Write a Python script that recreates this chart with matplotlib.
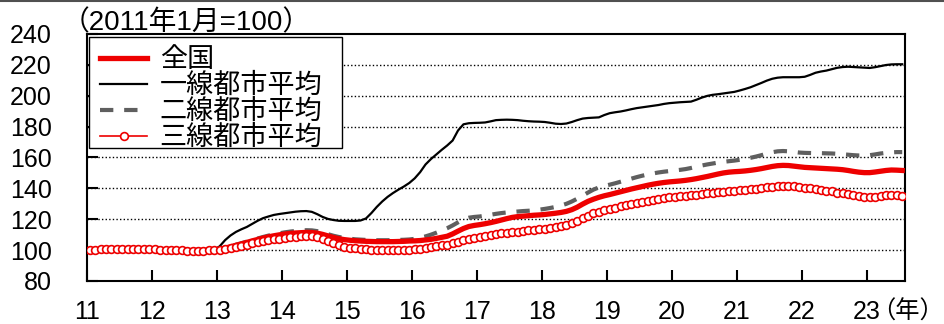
import matplotlib
matplotlib.use("Agg")
import matplotlib.pyplot as plt
from matplotlib.lines import Line2D
from matplotlib.patches import Rectangle
import numpy as np

plt.rcParams['font.family'] = ['Liberation Sans', 'Noto Sans CJK JP', 'DejaVu Sans']

# Monthly house price indices, January 2011 = 100 (Jan 2011 - Jul 2023)
start_year = 2011
tick_years = list(range(2011, 2024))
tick_labels = [f"{y % 100}" for y in tick_years]

series_names = ["全国", "一線都市平均", "二線都市平均", "三線都市平均"]

national = [
    100.0, 100.2, 100.4, 100.6, 100.8, 100.9, 101.0, 101.0, 100.9, 100.8, 100.7, 100.6,
    100.5, 100.4, 100.3, 100.2, 100.0, 99.9, 99.8, 99.7, 99.7, 99.8, 99.9, 100.1,
    100.5, 101.3, 102.2, 103.1, 104.0, 105.0, 106.0, 106.9, 107.8, 108.6, 109.3, 109.9,
    110.4, 110.8, 111.1, 111.3, 111.5, 111.4, 111.0, 110.2, 109.2, 108.2, 107.4, 106.8,
    106.4, 106.1, 105.9, 105.7, 105.6, 105.5, 105.5, 105.5, 105.5, 105.6, 105.7, 105.9,
    106.0, 106.2, 106.6, 107.0, 107.6, 108.3, 109.0, 110.5, 112.3, 114.0, 115.3, 116.0,
    116.5, 117.1, 117.8, 118.6, 119.5, 120.4, 121.2, 121.7, 122.0, 122.3, 122.6, 122.8,
    123.1, 123.5, 123.9, 124.4, 125.1, 126.2, 127.8, 129.8, 131.6, 133.0, 134.2, 135.2,
    136.0, 136.9, 137.8, 138.7, 139.6, 140.4, 141.2, 142.0, 142.7, 143.3, 143.8, 144.2,
    144.5, 144.8, 145.2, 145.7, 146.3, 147.0, 147.7, 148.5, 149.3, 150.0, 150.5, 150.8,
    151.0, 151.3, 151.7, 152.2, 152.8, 153.5, 154.2, 154.7, 154.9, 154.8, 154.4, 154.0,
    153.6, 153.4, 153.2, 153.0, 152.8, 152.6, 152.4, 152.1, 151.6, 151.0, 150.5, 150.2,
    150.2, 150.6, 151.1, 151.6, 151.9, 151.8, 151.6,
]

tier1 = [
    100.0, 100.2, 100.4, 100.6, 100.8, 100.9, 101.0, 101.0, 100.9, 100.8, 100.7, 100.6,
    100.5, 100.4, 100.3, 100.2, 100.0, 99.9, 99.8, 99.7, 99.7, 99.8, 99.9, 100.2,
    102.5, 106.5, 109.5, 111.8, 113.5, 115.0, 117.0, 119.0, 120.7, 121.8, 122.8, 123.4,
    123.9, 124.4, 124.9, 125.2, 125.3, 124.8, 123.3, 121.5, 120.2, 119.5, 119.0, 118.9,
    118.9, 118.9, 119.2, 120.5, 124.0, 128.0, 131.5, 134.5, 137.0, 139.2, 141.2, 143.5,
    146.5, 150.5, 155.5, 159.0, 162.0, 165.0, 167.8, 171.0, 177.5, 181.5, 182.2, 182.4,
    182.5, 182.7, 183.4, 184.2, 184.4, 184.5, 184.4, 184.2, 183.8, 183.5, 183.3, 183.2,
    183.0, 182.5, 181.9, 181.7, 182.0, 183.0, 184.2, 185.2, 185.6, 185.8, 186.0, 187.5,
    188.7, 189.3, 189.8, 190.5, 191.3, 192.0, 192.5, 193.0, 193.5, 194.0, 194.7, 195.2,
    195.5, 195.8, 196.0, 196.2, 197.4, 198.8, 199.9, 200.6, 201.0, 201.5, 202.0, 202.5,
    203.4, 204.4, 205.5, 206.9, 208.3, 209.8, 211.0, 211.7, 212.0, 212.0, 212.0, 212.0,
    212.3, 213.5, 214.9, 215.7, 216.3, 217.2, 218.1, 218.6, 218.8, 218.6, 218.4, 218.2,
    218.0, 218.5, 219.2, 219.9, 220.3, 220.4, 220.4,
]

tier2 = [
    100.0, 100.2, 100.4, 100.6, 100.8, 100.9, 101.0, 101.0, 100.9, 100.8, 100.7, 100.6,
    100.5, 100.4, 100.3, 100.1, 100.0, 99.9, 99.8, 99.7, 99.7, 99.8, 99.9, 100.1,
    100.6, 101.5, 102.5, 103.5, 104.5, 105.5, 106.5, 107.5, 108.5, 109.4, 110.2, 110.9,
    111.5, 112.0, 112.4, 112.7, 112.9, 112.8, 112.3, 111.4, 110.3, 109.3, 108.5, 107.9,
    107.4, 107.0, 106.8, 106.6, 106.5, 106.4, 106.4, 106.4, 106.5, 106.6, 106.7, 106.9,
    107.3, 108.0, 108.9, 110.0, 111.3, 112.7, 114.2, 116.0, 118.0, 120.0, 121.0, 121.5,
    121.8, 122.3, 122.9, 123.5, 124.0, 124.4, 124.7, 125.0, 125.3, 125.5, 125.8, 126.2,
    126.7, 127.3, 128.0, 128.9, 130.0, 131.5, 133.3, 135.3, 137.3, 139.2, 140.6, 141.6,
    142.4, 143.3, 144.3, 145.3, 146.3, 147.3, 148.2, 149.0, 149.7, 150.3, 150.8, 151.2,
    151.6, 152.0, 152.5, 153.2, 154.0, 154.8, 155.5, 156.1, 156.7, 157.2, 157.6, 158.0,
    158.5, 159.1, 159.8, 160.6, 161.5, 162.5, 163.4, 164.0, 164.2, 164.0, 163.6, 163.2,
    163.0, 162.9, 162.8, 162.8, 162.7, 162.6, 162.4, 162.1, 161.8, 161.5, 161.3, 161.3,
    161.5, 162.0, 162.6, 163.0, 163.3, 163.5, 163.5,
]

tier3 = [
    100.0, 100.2, 100.5, 100.7, 100.8, 101.0, 101.0, 101.0, 100.9, 100.8, 100.7, 100.6,
    100.5, 100.4, 100.3, 100.2, 100.0, 99.8, 99.6, 99.5, 99.5, 99.6, 99.8, 100.0,
    100.2, 100.7, 101.3, 102.0, 102.7, 103.5, 104.3, 105.0, 105.7, 106.3, 106.9, 107.4,
    107.9, 108.3, 108.7, 109.0, 109.1, 109.0, 108.3, 107.3, 106.0, 104.6, 103.3, 102.3,
    101.6, 101.1, 100.8, 100.5, 100.3, 100.2, 100.1, 100.0, 100.0, 100.0, 100.1, 100.3,
    100.5, 100.8, 101.3, 101.9, 102.5, 103.0, 103.5, 104.3, 105.3, 106.3, 107.2, 108.0,
    108.6, 109.2, 109.8, 110.4, 110.9, 111.3, 111.6, 112.0, 112.4, 112.8, 113.3, 113.7,
    114.0, 114.4, 114.9, 115.5, 116.3, 117.4, 118.8, 120.5, 122.3, 123.8, 125.0, 126.0,
    126.8, 127.6, 128.4, 129.3, 130.1, 130.8, 131.4, 131.9, 132.5, 133.1, 133.7, 134.2,
    134.6, 134.9, 135.2, 135.6, 136.0, 136.5, 137.0, 137.3, 137.6, 137.9, 138.2, 138.5,
    138.8, 139.1, 139.5, 139.9, 140.3, 140.8, 141.2, 141.5, 141.7, 141.6, 141.3, 140.9,
    140.5, 140.1, 139.7, 139.2, 138.6, 138.0, 137.3, 136.7, 136.1, 135.5, 135.0, 134.6,
    134.4, 134.5, 134.9, 135.4, 135.7, 135.8, 135.3,
]

months = np.arange(len(national))
x = start_year + (months + 0.5) / 12.0

RED = "#EE0000"
GRAY = "#5F5F5F"
W, H = 945, 324

fig = plt.figure(figsize=(W / 100, H / 100), dpi=100)
ax = fig.add_axes([87 / W, 1 - 281 / H, (905 - 87) / W, (281 - 34) / H])

ax.plot(x, tier1, color="black", lw=1.6, label=series_names[1], zorder=3)
ax.plot(x, tier2, color=GRAY, lw=3.0, dashes=(3.2, 2.6), label=series_names[2], zorder=3)
ax.plot(x, national, color=RED, lw=3.8, label=series_names[0], zorder=4)
ax.plot(x, tier3, color=RED, lw=1.2, marker="o", ms=5.6, mfc="white", mec=RED, mew=1.2,
        label=series_names[3], zorder=5)

ax.set_xlim(2011.0, 2011 + (905 - 87) / 65.0)
ax.set_ylim(80, 240)
ax.set_xticks(tick_years)
ax.set_xticklabels(tick_labels)
ax.set_yticks(np.arange(80, 241, 20))

ax.tick_params(axis="x", direction="in", length=8, width=1.5, pad=14, labelsize=18)
ax.tick_params(axis="y", direction="in", length=8, width=1.5, pad=25.5, labelsize=18)

for g in range(100, 240, 20):
    ax.axhline(g, color="black", lw=1.0, ls=(0, (1.0, 1.6)), zorder=1)

for sp in ax.spines.values():
    sp.set_linewidth(1.5)
    sp.set_color("black")

# legend box drawn as its own frame so its size can be set exactly
frame = Rectangle((89 / W, 1 - 148 / H), (342 - 89) / W, (148 - 37) / H,
                  transform=fig.transFigure, facecolor="white", edgecolor="black",
                  lw=1.0, zorder=9)
ax.add_patch(frame)

handles, labels = ax.get_legend_handles_labels()
order = [labels.index(n) for n in series_names]
leg = ax.legend([handles[i] for i in order], [labels[i] for i in order],
                loc="upper left", bbox_to_anchor=(0.006, 0.98), borderaxespad=0,
                fontsize=19.5, frameon=False, handlelength=1.75, handletextpad=0.45,
                labelspacing=0.0, borderpad=0.3, numpoints=1)
leg.set_zorder(10)

fig.text(62 / W, 1 - 23 / H, "（2011年1月=100）", fontsize=20, ha="left", va="center")
fig.text(944 / W, 1 - 312 / H, "（年）", fontsize=17.5, ha="right", va="center")

fig.add_artist(Line2D([0, 1], [1 - 1 / H, 1 - 1 / H], color="#505050", lw=1.5,
                      transform=fig.transFigure))

fig.savefig("out.png", dpi=100)
